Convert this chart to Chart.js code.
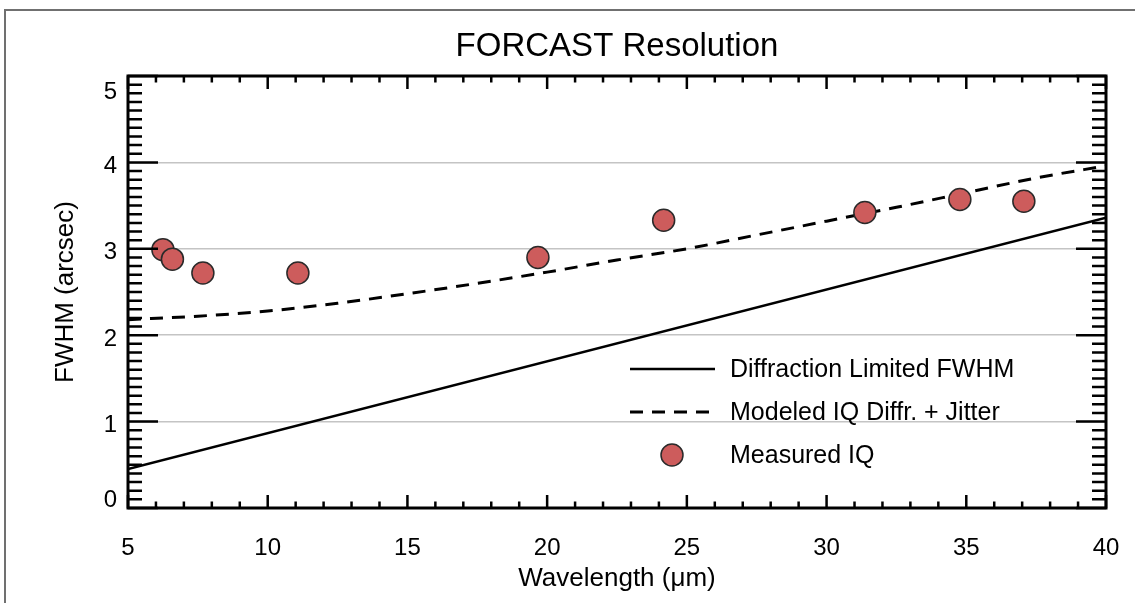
<!DOCTYPE html>
<html>
<head>
<meta charset="utf-8">
<script src="https://cdn.jsdelivr.net/npm/chart.js@4"></script>
<style>
html,body{margin:0;padding:0;background:#fff;}
#wrap{width:1135px;height:603px;position:relative;}
</style>
</head>
<body>
<div id="wrap"><canvas id="c" width="1135" height="603"></canvas></div>
<script>
// ---- data ----
const measuredWavelength = [6.25, 6.59, 7.68, 11.08, 19.67, 24.17, 31.37, 34.77, 37.06];
const measuredFWHM      = [2.99, 2.88, 2.72, 2.72, 2.90, 3.33, 3.42, 3.57, 3.55];
const diffWavelength = [5, 40];
const diffFWHM       = [0.45, 3.36];
const modelWavelength = [5, 7.5, 10, 12.5, 15, 17.5, 20, 22.5, 25, 27.5, 30, 32.5, 35, 37.5, 40];
const modelFWHM       = [2.18, 2.22, 2.28, 2.37, 2.48, 2.60, 2.73, 2.87, 3.00, 3.16, 3.32, 3.48, 3.65, 3.82, 3.96];
const xTickValues = [5, 10, 15, 20, 25, 30, 35, 40];
const yTickValues = [0, 1, 2, 3, 4, 5];
const seriesLabels = ['Diffraction Limited FWHM', 'Modeled IQ Diffr. + Jitter', 'Measured IQ'];

const FONT = '"Liberation Sans", Helvetica, Arial, sans-serif';
const pts = (xs, ys) => xs.map((x, i) => ({x, y: ys[i]}));

const frameAndTicks = {
  id: 'frameAndTicks',
  beforeDraw(chart) {
    const ctx = chart.ctx;
    ctx.save();
    ctx.strokeStyle = '#707070';
    ctx.lineWidth = 2;
    ctx.beginPath();
    ctx.moveTo(5, 603); ctx.lineTo(5, 10); ctx.lineTo(1135, 10);
    ctx.stroke();
    ctx.restore();
  },
  afterDatasetsDraw(chart) {
    const {ctx, chartArea: a, scales: {x, y}} = chart;
    ctx.save();
    ctx.strokeStyle = '#000';
    ctx.lineCap = 'butt';
    // x ticks
    ctx.lineWidth = 2.5;
    for (let v = x.min; v <= x.max + 1e-9; v += 1) {
      const px = x.getPixelForValue(v);
      const major = xTickValues.includes(Math.round(v * 1000) / 1000);
      const len = major ? 13 : 6.5;
      ctx.beginPath();
      ctx.moveTo(px, a.bottom); ctx.lineTo(px, a.bottom - len);
      ctx.moveTo(px, a.top); ctx.lineTo(px, a.top + len);
      ctx.stroke();
    }
    // y ticks
    for (let i = 0; i <= 50; i++) {
      const v = i / 10;
      const py = y.getPixelForValue(v);
      const major = i % 10 === 0;
      const len = major ? 30 : 14;
      ctx.lineWidth = 2.5;
      ctx.beginPath();
      ctx.moveTo(a.left, py); ctx.lineTo(a.left + len, py);
      ctx.moveTo(a.right, py); ctx.lineTo(a.right - len, py);
      ctx.stroke();
    }
    // frame
    ctx.lineWidth = 3;
    ctx.strokeRect(a.left, a.top, a.right - a.left, a.bottom - a.top);
    // y tick labels (IDL-style: end labels pulled inside the axis range)
    ctx.font = '24px ' + FONT;
    ctx.fillStyle = '#000';
    ctx.textAlign = 'right';
    ctx.textBaseline = 'middle';
    yTickValues.forEach(v => {
      let py = y.getPixelForValue(v) + 4;
      py = Math.min(Math.max(py, a.top + 16), a.bottom - 8);
      ctx.fillText(String(v), a.left - 11, py);
    });
    ctx.restore();
  },
  afterDraw(chart) {
    // legend inside plot
    const ctx = chart.ctx;
    const ds = chart.data.datasets;
    ctx.save();
    ctx.font = '25px ' + FONT;
    ctx.fillStyle = '#000';
    ctx.textBaseline = 'middle';
    ctx.textAlign = 'left';
    const x0 = 630, x1 = 715, tx = 730;
    const rows = [369, 412, 455];
    // solid
    ctx.strokeStyle = '#000';
    ctx.lineWidth = ds[1].borderWidth;
    ctx.setLineDash([]);
    ctx.beginPath(); ctx.moveTo(x0, rows[0]); ctx.lineTo(x1, rows[0]); ctx.stroke();
    ctx.fillText(ds[1].label, tx, rows[0] + 1);
    // dashed
    ctx.lineWidth = ds[2].borderWidth;
    ctx.setLineDash(ds[2].borderDash);
    ctx.beginPath(); ctx.moveTo(x0, rows[1]); ctx.lineTo(x1 + 2, rows[1]); ctx.stroke();
    ctx.setLineDash([]);
    ctx.fillText(ds[2].label, tx, rows[1] + 1);
    // marker
    ctx.beginPath();
    ctx.arc(672, rows[2], ds[0].pointRadius, 0, Math.PI * 2);
    ctx.fillStyle = ds[0].backgroundColor;
    ctx.fill();
    ctx.lineWidth = ds[0].borderWidth;
    ctx.strokeStyle = ds[0].borderColor;
    ctx.stroke();
    ctx.fillStyle = '#000';
    ctx.fillText(ds[0].label, tx, rows[2] + 1);
    ctx.restore();
  }
};

new Chart(document.getElementById('c'), {
  type: 'scatter',
  data: {
    datasets: [
      {
        label: seriesLabels[2],
        data: pts(measuredWavelength, measuredFWHM),
        backgroundColor: '#cd5c5c',
        borderColor: '#2a2a2a',
        borderWidth: 1.5,
        pointRadius: 11,
        pointHoverRadius: 11,
        showLine: false
      },
      {
        label: seriesLabels[0],
        data: pts(diffWavelength, diffFWHM),
        showLine: true,
        borderColor: '#000',
        borderWidth: 2.5,
        pointRadius: 0,
        fill: false
      },
      {
        label: seriesLabels[1],
        data: pts(modelWavelength, modelFWHM),
        showLine: true,
        borderColor: '#000',
        borderWidth: 3,
        borderDash: [13, 9],
        pointRadius: 0,
        cubicInterpolationMode: 'monotone',
        fill: false
      }
    ]
  },
  options: {
    responsive: false,
    animation: false,
    devicePixelRatio: 1,
    layout: {padding: {top: 0, left: 0, right: 29, bottom: 0}},
    plugins: {
      legend: {display: false},
      tooltip: {enabled: false},
      title: {
        display: true,
        fullSize: false,
        text: 'FORCAST Resolution',
        color: '#000',
        font: {family: FONT, size: 33, weight: 'normal'},
        padding: {top: 27, bottom: 9.4}
      }
    },
    scales: {
      x: {
        type: 'linear',
        min: 5, max: 40,
        afterFit(s) { s.height = 95; s.paddingLeft = 0; s.paddingRight = 0; },
        grid: {display: false, drawTicks: false},
        border: {display: false},
        afterBuildTicks(s) { s.ticks = xTickValues.map(v => ({value: v})); },
        ticks: {color: '#000', font: {family: FONT, size: 24}, padding: 26, maxRotation: 0},
        title: {display: true, text: 'Wavelength (\u03BCm)', color: '#000', font: {family: FONT, size: 26}, padding: {top: 0, bottom: 9}}
      },
      y: {
        type: 'linear',
        min: 0, max: 5,
        afterFit(s) { s.width = 128; s.paddingTop = 0; s.paddingBottom = 0; },
        grid: {
          drawTicks: false,
          color: (c) => (c.tick && (c.tick.value === 0 || c.tick.value === 5)) ? 'rgba(0,0,0,0)' : '#c4c4c4',
          lineWidth: 1.5
        },
        border: {display: false},
        afterBuildTicks(s) { s.ticks = yTickValues.map(v => ({value: v})); },
        ticks: {display: false},
        title: {display: true, text: 'FWHM (arcsec)', color: '#000', font: {family: FONT, size: 26}, padding: {top: 50, bottom: 0}}
      }
    }
  },
  plugins: [frameAndTicks]
});
</script>
</body>
</html>
